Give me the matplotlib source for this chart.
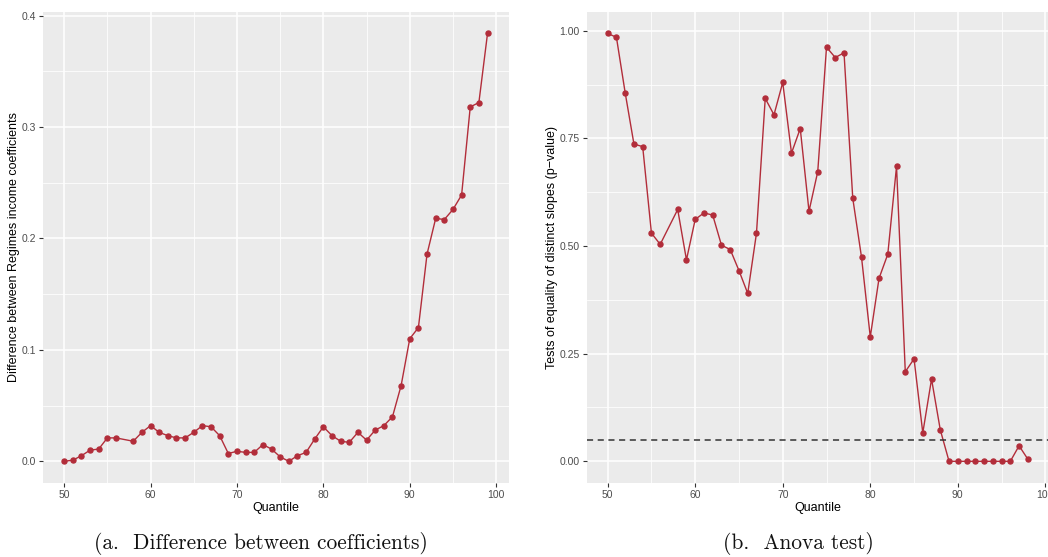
import numpy as np
import matplotlib
matplotlib.use("Agg")
import matplotlib.pyplot as plt
from matplotlib.ticker import MultipleLocator, FixedLocator

# quantiles (57 is missing in both panels)
quant_a = [50, 51, 52, 53, 54, 55, 56, 58, 59, 60, 61, 62, 63, 64, 65, 66, 67, 68, 69, 70,
           71, 72, 73, 74, 75, 76, 77, 78, 79, 80, 81, 82, 83, 84, 85, 86, 87, 88, 89, 90,
           91, 92, 93, 94, 95, 96, 97, 98, 99]
diff_coef = [0.000, 0.001, 0.005, 0.010, 0.011, 0.021, 0.021, 0.018, 0.026, 0.032,
             0.026, 0.023, 0.021, 0.021, 0.026, 0.032, 0.031, 0.023, 0.007, 0.009,
             0.008, 0.008, 0.015, 0.011, 0.004, 0.000, 0.005, 0.008, 0.020, 0.031,
             0.023, 0.018, 0.017, 0.026, 0.019, 0.028, 0.032, 0.040, 0.068, 0.110,
             0.120, 0.186, 0.218, 0.217, 0.226, 0.239, 0.318, 0.322, 0.384]

quant_b = [50, 51, 52, 53, 54, 55, 56, 58, 59, 60, 61, 62, 63, 64, 65, 66, 67, 68, 69, 70,
           71, 72, 73, 74, 75, 76, 77, 78, 79, 80, 81, 82, 83, 84, 85, 86, 87, 88, 89, 90,
           91, 92, 93, 94, 95, 96, 97, 98]
pvalue = [0.994, 0.985, 0.856, 0.737, 0.731, 0.530, 0.504, 0.585, 0.468, 0.562,
          0.577, 0.572, 0.502, 0.492, 0.443, 0.390, 0.530, 0.843, 0.805, 0.880,
          0.716, 0.773, 0.581, 0.673, 0.962, 0.938, 0.949, 0.611, 0.474, 0.289,
          0.425, 0.481, 0.685, 0.208, 0.238, 0.066, 0.191, 0.073, 0.000, 0.000,
          0.000, 0.000, 0.000, 0.000, 0.000, 0.000, 0.036, 0.005]
threshold = 0.05

red = '#B22D3A'
panel = '#EBEBEB'

plt.rcParams['font.family'] = ['Liberation Sans', 'DejaVu Sans']

fig = plt.figure(figsize=(10.48, 5.57), dpi=100)
ax1 = fig.add_axes([0.041, 0.1334, 0.4444, 0.845])
ax2 = fig.add_axes([0.5598, 0.1334, 0.4410, 0.845])


def gg_style(ax, xs, ys, ymajor):
    ax.set_facecolor(panel)
    for s in ax.spines.values():
        s.set_visible(False)
    xr = max(xs) - min(xs)
    ax.set_xlim(min(xs) - 0.05 * xr, max(xs) + 0.05 * xr)
    yr = max(ys) - min(ys)
    ax.set_ylim(min(ys) - 0.05 * yr, max(ys) + 0.05 * yr)
    ax.xaxis.set_major_locator(MultipleLocator(10))
    ax.xaxis.set_minor_locator(MultipleLocator(5))
    ax.yaxis.set_major_locator(MultipleLocator(ymajor))
    ax.yaxis.set_minor_locator(MultipleLocator(ymajor / 2))
    ax.grid(which='major', color='white', linewidth=1.1)
    ax.grid(which='minor', color='white', linewidth=0.55)
    ax.set_axisbelow(True)
    ax.tick_params(which='major', length=3, width=0.8, color='#333333',
                   labelsize=7.5, labelcolor='#4D4D4D', pad=2)
    ax.tick_params(which='minor', length=0)
    ax.set_xlabel('Quantile', fontsize=9, labelpad=2)


ax1.plot(quant_a, diff_coef, color=red, linewidth=1.0, marker='o', markersize=3.6)
gg_style(ax1, quant_a, diff_coef, 0.1)
ax1.yaxis.set_major_formatter(matplotlib.ticker.FormatStrFormatter('%.1f'))
ax1.set_ylabel('Difference between Regimes income coefficients', fontsize=9, labelpad=1)

ax2.plot(quant_b, pvalue, color=red, linewidth=1.0, marker='o', markersize=3.6)
ax2.axhline(threshold, color='#333333', linestyle=(0, (4, 3)), linewidth=1.1)
gg_style(ax2, quant_b, pvalue, 0.25)
ax2.yaxis.set_major_formatter(matplotlib.ticker.FormatStrFormatter('%.2f'))
ax2.set_ylabel('Tests of equality of distinct slopes (p\u2212value)', fontsize=9, labelpad=1)

fig.text(0.249, 0.004, '(a.  Difference between coefficients)', family='cmr10',
         fontsize=15.4, ha='center', va='bottom', color='#111111')
fig.text(0.762, 0.004, '(b.  Anova test)', family='cmr10',
         fontsize=15.4, ha='center', va='bottom', color='#111111')

fig.savefig('out.png', dpi=100)
